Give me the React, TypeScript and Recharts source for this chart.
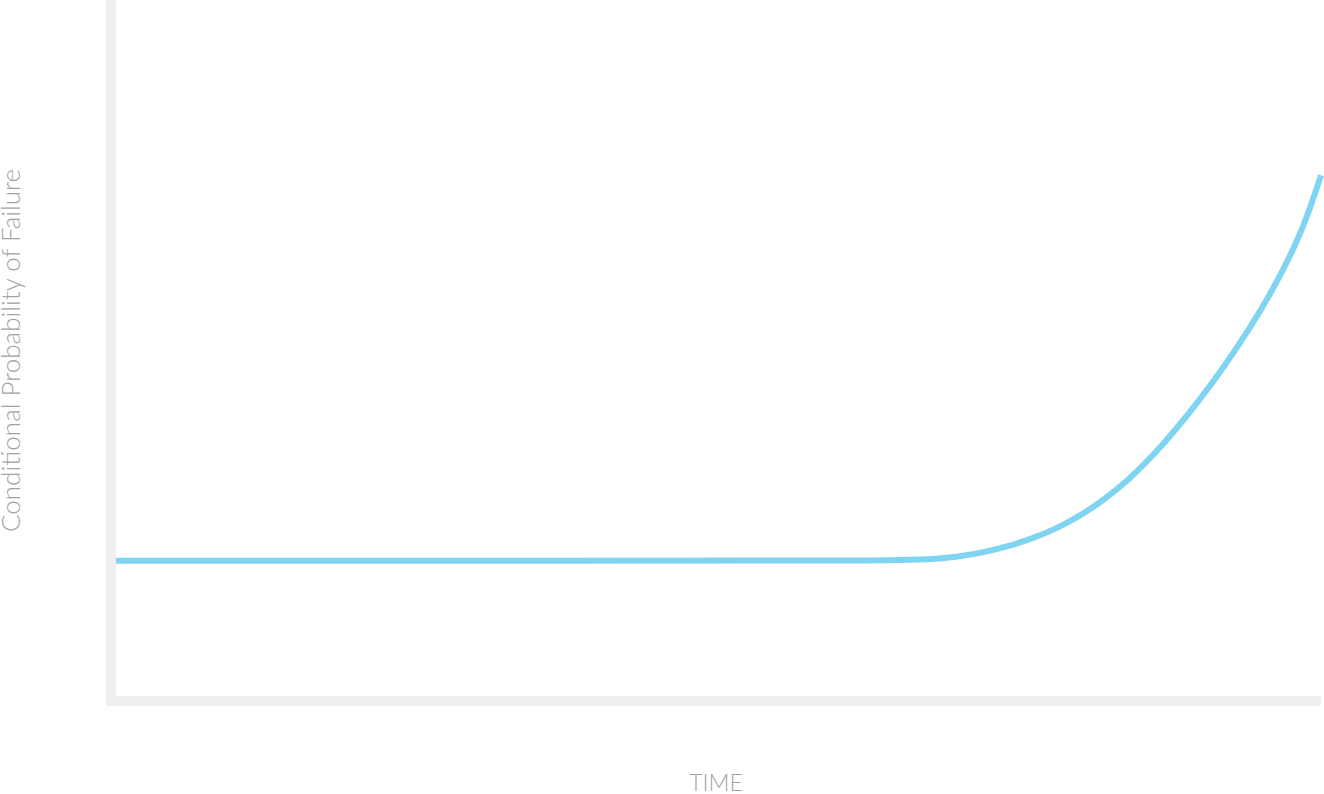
import React from "react";
import { LineChart, Line, XAxis, YAxis, Label } from "recharts";

const times = [0, 40, 66, 68, 70, 72, 74, 76, 78, 80, 82, 84, 86, 88, 90, 92, 94, 96, 98, 99, 100];
const failureProbability = [
  20, 20, 20, 20.27, 20.62, 21.2, 22.05, 23.15, 24.55, 26.4, 28.7, 31.5, 34.9, 38.8, 43.1, 47.8, 52.9,
  58.6, 65.4, 69.8, 75.0,
];

const data = times.map((t, i) => ({ t, p: failureProbability[i] }));

const axisColor = "#efefef";
const textColor = "#a3a3a3";
const lineColor = "#7fd4f2";
const font = "Lato, 'Open Sans', sans-serif";

const YLabel = (props: any) => {
  const vb = props.viewBox || { x: 0, y: 0, width: 111, height: 701 };
  const cx = vb.x + 20;
  const cy = vb.y + vb.height / 2;
  return (
    <text
      x={cx}
      y={cy}
      transform={`rotate(-90, ${cx}, ${cy})`}
      textAnchor="middle"
      fill={textColor}
      fontSize={26}
      fontWeight={300}
      fontFamily={font}
    >
      Conditional Probability of Failure
    </text>
  );
};

const XLabel = (props: any) => {
  const vb = props.viewBox || { x: 111, y: 701, width: 1210, height: 93 };
  const cx = vb.x + vb.width / 2;
  const cy = vb.y + 90;
  return (
    <text x={cx} y={cy} textAnchor="middle" fill={textColor} fontSize={23} fontWeight={300} fontFamily={font}>
      TIME
    </text>
  );
};

export default function App() {
  return (
    <div style={{ position: "absolute", left: 0, top: 0, width: 1324, height: 794, background: "#fff" }}>
      <LineChart width={1324} height={794} data={data} margin={{ top: 0, right: 3, left: 0, bottom: 0 }}>
        <XAxis
          dataKey="t"
          type="number"
          domain={[0, 100]}
          padding={{ left: 5, right: 0 }}
          tick={false}
          tickLine={false}
          height={93}
          axisLine={{ stroke: axisColor, strokeWidth: 10 }}
        >
          <Label content={<XLabel />} />
        </XAxis>
        <YAxis
          type="number"
          domain={[0, 100]}
          tick={false}
          tickLine={false}
          width={111}
          axisLine={{ stroke: axisColor, strokeWidth: 10, strokeLinecap: "square" }}
        >
          <Label content={<YLabel />} />
        </YAxis>
        <Line
          type="basis"
          dataKey="p"
          stroke={lineColor}
          strokeWidth={6}
          dot={false}
          activeDot={false}
          isAnimationActive={false}
        />
      </LineChart>
    </div>
  );
}
